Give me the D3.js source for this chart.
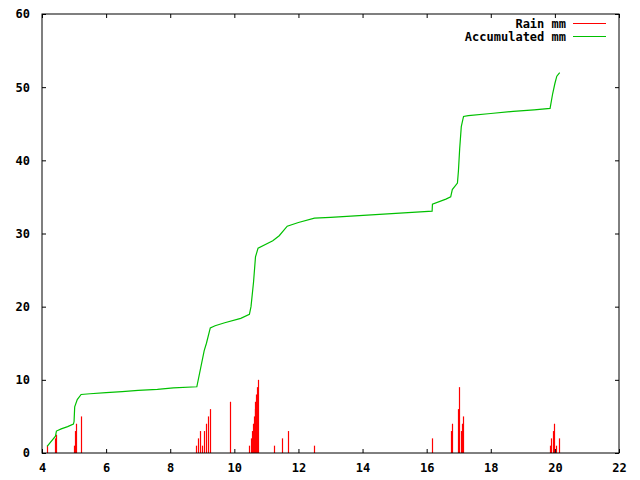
<!DOCTYPE html>
<html>
<head>
<meta charset="utf-8">
<script src="https://cdn.jsdelivr.net/npm/d3@7"></script>
<style>
  body { margin: 0; background: #fff; }
  text { font-family: "DejaVu Sans Mono", monospace; font-size: 12px; font-weight: bold; fill: #000; }
</style>
</head>
<body>
<div id="chart"></div>
<script>
// rain per tip (mm)
const rainX = [4.16, 4.41, 4.44, 5.01, 5.04, 5.07, 5.23,
  8.81, 8.875, 8.94, 9.0, 9.06, 9.125, 9.19, 9.23, 9.85,
  10.47, 10.52, 10.56, 10.58, 10.60, 10.63, 10.66, 10.68, 10.70, 10.73,
  11.23, 11.48, 11.67, 12.48,
  16.17, 16.76, 16.79, 16.98, 17.01, 17.07, 17.1, 17.13,
  19.85, 19.88, 19.95, 19.98, 20.04, 20.13];
const rainY = [1, 2, 2.5, 1, 3, 4, 5,
  1, 2, 3, 1, 3, 4, 5, 6, 7,
  1, 2, 3, 4, 5, 6, 7, 8, 9, 10,
  1, 2, 3, 1,
  2, 3, 4, 6, 9, 3, 4, 5,
  1, 2, 3, 4, 1, 2];

// accumulated (mm)
const accX = [4.16, 4.42, 4.45, 4.6, 4.8, 4.98, 5.0, 5.02, 5.1, 5.22, 5.5, 6.0, 6.5, 7.0, 7.6, 8.1, 8.83,
  9.06, 9.13, 9.25, 9.4, 9.7, 10.2, 10.47, 10.52, 10.6, 10.66, 10.74, 11.2, 11.4, 11.65, 12.0, 12.5, 13.0,
  15.8, 16.17, 16.18, 16.6, 16.75, 16.8, 16.96, 16.99, 17.03, 17.08, 17.15, 17.3, 18.0, 18.7, 19.35, 19.85,
  19.93, 20.0, 20.06, 20.15];
const accY = [0.9, 2.3, 3.0, 3.3, 3.6, 3.95, 4.3, 6.3, 7.3, 8.0, 8.1, 8.25, 8.4, 8.55, 8.7, 8.9, 9.05,
  14.0, 15.0, 17.1, 17.4, 17.8, 18.4, 18.95, 20, 23.4, 26.8, 28.0, 29.0, 29.7, 31.0, 31.5, 32.1, 32.2,
  32.95, 33.05, 34.0, 34.7, 35.0, 36.0, 36.9, 38.5, 41.6, 44.6, 46.0, 46.1, 46.4, 46.7, 46.9, 47.1,
  49.1, 50.5, 51.5, 52.0];

const xTicks = [4, 6, 8, 10, 12, 14, 16, 18, 20, 22];
const yTicks = [0, 10, 20, 30, 40, 50, 60];
const seriesNames = ["Rain mm", "Accumulated mm"];
const seriesColors = ["#ff0000", "#00c000"];

const width = 640, height = 480;
const margin = { top: 14, right: 21, bottom: 27, left: 42 };
const w = width - margin.left - margin.right;
const h = height - margin.top - margin.bottom;

const svg = d3.select("#chart").append("svg")
  .attr("width", width)
  .attr("height", height);

const g = svg.append("g")
  .attr("transform", "translate(" + [margin.left, margin.top] + ")");

const x = d3.scaleLinear().domain([4, 22]).range([0, w]);
const y = d3.scaleLinear().domain([0, 60]).range([h, 0]);

// impulses
const rain = rainX.map((d, i) => ({ x: d, y: rainY[i] }));
g.append("g").selectAll("line")
  .data(rain)
  .enter().append("line")
  .attr("x1", d => Math.round(x(d.x)) + 0.5)
  .attr("x2", d => Math.round(x(d.x)) + 0.5)
  .attr("y1", y(0))
  .attr("y2", d => y(d.y))
  .attr("stroke", seriesColors[0])
  .attr("stroke-width", 1.2);

// accumulated line
const acc = accX.map((d, i) => ({ x: d, y: accY[i] }));
g.append("path")
  .datum(acc)
  .attr("fill", "none")
  .attr("stroke", seriesColors[1])
  .attr("stroke-width", 1.2)
  .attr("d", d3.line().x(d => x(d.x)).y(d => y(d.y)));

// axes: ticks inward, mirrored
const tl = 4;
g.append("g")
  .attr("transform", "translate(0," + h + ")")
  .call(d3.axisBottom(x).tickValues(xTicks).tickSize(-tl).tickPadding(10).tickFormat(d3.format("d")));
g.append("g")
  .call(d3.axisTop(x).tickValues(xTicks).tickSize(-tl).tickFormat(""));
g.append("g")
  .call(d3.axisLeft(y).tickValues(yTicks).tickSize(-tl).tickPadding(12).tickFormat(d3.format("d")));
g.append("g")
  .attr("transform", "translate(" + w + ",0)")
  .call(d3.axisRight(y).tickValues(yTicks).tickSize(-tl).tickFormat(""));

g.selectAll(".domain").remove();
g.selectAll(".tick line").attr("stroke", "#000");
g.selectAll(".tick text")
  .style("font-family", "'DejaVu Sans Mono', monospace")
  .style("font-size", "12px")
  .style("font-weight", "bold");

g.append("rect")
  .attr("x", 0).attr("y", 0)
  .attr("width", w).attr("height", h)
  .attr("fill", "none")
  .attr("stroke", "#000");

// legend
const legend = g.append("g");
seriesNames.forEach((name, i) => {
  const ly = 9.5 + i * 13;
  legend.append("text")
    .attr("x", 524)
    .attr("y", ly)
    .attr("dy", "0.35em")
    .attr("text-anchor", "end")
    .text(name);
  legend.append("line")
    .attr("x1", 531).attr("x2", 564)
    .attr("y1", ly).attr("y2", ly)
    .attr("stroke", seriesColors[i]);
});
</script>
</body>
</html>
